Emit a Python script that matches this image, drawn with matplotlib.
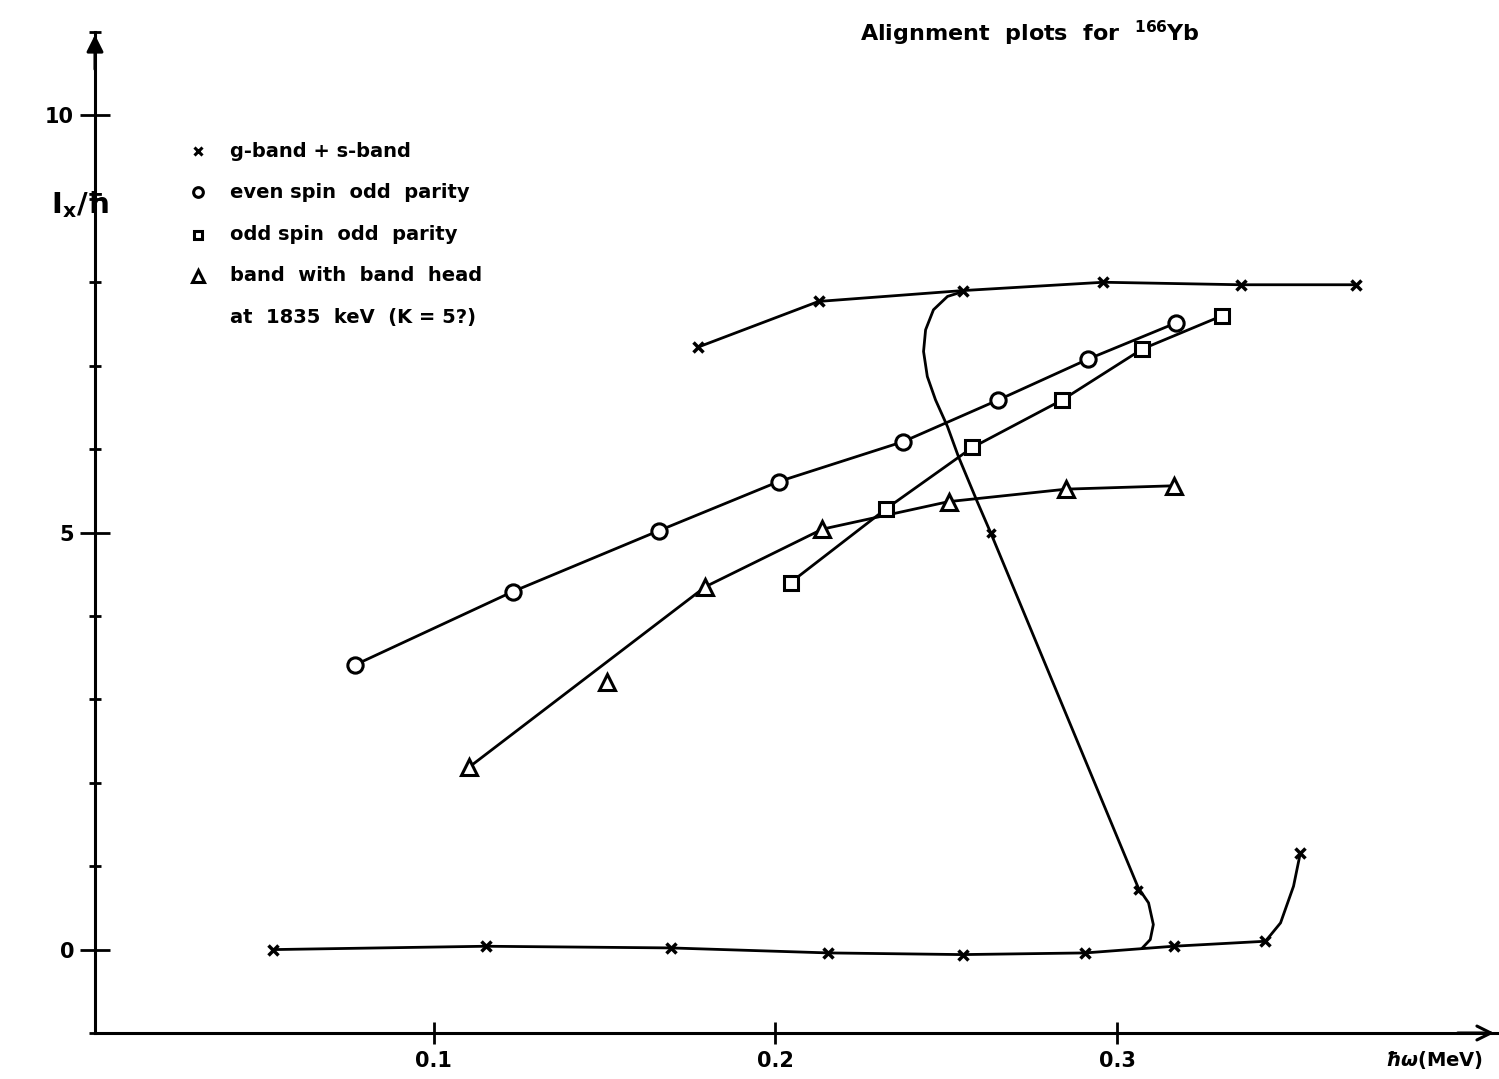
import numpy as np
import matplotlib
matplotlib.use("Agg")
import matplotlib.pyplot as plt
from matplotlib.ticker import MultipleLocator

# --- data (hw in MeV, i_x in hbar) ---
# g-band + s-band (crosses)
g_low_x = [0.0532, 0.1152, 0.1693, 0.2155, 0.2547, 0.2906, 0.3164, 0.3433, 0.3535]
g_low_y = [0.00, 0.04, 0.02, -0.04, -0.06, -0.04, 0.04, 0.10, 1.16]
g_bend_pts_x = [0.3061, 0.2629]
g_bend_pts_y = [0.72, 5.00]
s_band_x = [0.1772, 0.2126, 0.2547, 0.2959, 0.3360, 0.3699]
s_band_y = [7.22, 7.77, 7.90, 8.00, 7.97, 7.97]

# hand drawn curves through the crosses
bend_curve_x = [0.2550, 0.2503, 0.2462, 0.2439, 0.2433, 0.2444, 0.2468, 0.2503,
                0.2535, 0.2591, 0.2629, 0.3061, 0.3091, 0.3105, 0.3096, 0.3073]
bend_curve_y = [7.89, 7.83, 7.67, 7.43, 7.17, 6.87, 6.59, 6.27,
                5.91, 5.36, 5.00, 0.74, 0.56, 0.30, 0.12, 0.02]
g_curve_x = [0.0532, 0.1152, 0.1693, 0.2155, 0.2547, 0.2906, 0.3164, 0.3433,
             0.3477, 0.3515, 0.3535]
g_curve_y = [0.00, 0.04, 0.02, -0.04, -0.06, -0.04, 0.04, 0.10, 0.32, 0.76, 1.16]

# even spin odd parity (circles)
even_x = [0.0769, 0.1231, 0.1658, 0.2009, 0.2374, 0.2652, 0.2915, 0.3170]
even_y = [3.41, 4.29, 5.02, 5.61, 6.09, 6.59, 7.08, 7.51]

# odd spin odd parity (squares)
odd_x = [0.2044, 0.2322, 0.2576, 0.2839, 0.3073, 0.3307]
odd_y = [4.40, 5.28, 6.02, 6.59, 7.20, 7.60]

# band with band head at 1835 keV (triangles)
tri_x = [0.1105, 0.1506, 0.1795, 0.2137, 0.2506, 0.2851, 0.3164]
tri_y = [2.19, 3.21, 4.35, 5.04, 5.37, 5.52, 5.56]
tri_on_line = [True, False, True, True, True, True, True]

legend_labels = ["g-band + s-band", "even spin  odd  parity",
                 "odd spin  odd  parity", "band  with  band  head",
                 "at  1835  keV  (K = 5?)"]

plt.rcParams['font.family'] = ['DejaVu Sans']
plt.rcParams['font.weight'] = 'bold'

fig = plt.figure(figsize=(14.99, 10.79), dpi=100)
ax = fig.add_axes([95 / 1499, 46 / 1079, 1402 / 1499, 1001 / 1079])
ax.set_xlim(0.001, 0.411)
ax.set_ylim(-1.0, 11.0)

lw = 2.0
ax.plot(g_curve_x, g_curve_y, color='k', lw=lw)
ax.plot(bend_curve_x, bend_curve_y, color='k', lw=lw)
ax.plot(s_band_x, s_band_y, color='k', lw=lw)
ax.plot(even_x, even_y, color='k', lw=lw)
ax.plot(odd_x, odd_y, color='k', lw=lw)
tx = [x for x, k in zip(tri_x, tri_on_line) if k]
ty = [y for y, k in zip(tri_y, tri_on_line) if k]
ax.plot(tx, ty, color='k', lw=lw)

# markers
mk = dict(color='k', ls='none', zorder=5)
ax.plot(g_low_x, g_low_y, marker='x', ms=7, mew=2.5, **mk)
ax.plot(g_bend_pts_x, g_bend_pts_y, marker='x', ms=6, mew=2.5, **mk)
ax.plot(s_band_x, s_band_y, marker='x', ms=7, mew=2.5, **mk)
ax.plot(even_x, even_y, marker='o', ms=11, mew=2.2, mfc='white', **mk)
ax.plot(odd_x, odd_y, marker='s', ms=10, mew=2.2, mfc='white', **mk)
ax.plot(tri_x, tri_y, marker='^', ms=12, mew=2.2, mfc='white', **mk)

# legend drawn by hand like the original
leg_mx = 0.031
leg_tx = 0.0406
leg_rows = [9.57, 9.08, 8.57, 8.08, 7.58]
leg_marks = [('x', 6), ('o', 7), ('s', 6), ('^', 8)]
for (m, s), yy in zip(leg_marks, leg_rows):
    ax.plot([leg_mx], [yy], marker=m, ms=s, mew=2.2, color='k', mfc='white', ls='none')
for lab, yy in zip(legend_labels, leg_rows):
    ax.text(leg_tx, yy, lab, fontsize=14, fontweight='bold', va='center', ha='left')

# axes look: only left and bottom lines with arrows
for side in ['top', 'right']:
    ax.spines[side].set_visible(False)
for side in ['left', 'bottom']:
    ax.spines[side].set_linewidth(2.2)
ax.annotate('', xy=(1.0, 0), xytext=(0.97, 0), xycoords='axes fraction',
            arrowprops=dict(arrowstyle='->', lw=2.2, color='k', mutation_scale=25))
ax.annotate('', xy=(0, 1.0), xytext=(0, 0.96), xycoords='axes fraction',
            arrowprops=dict(arrowstyle='-|>', lw=2.2, color='k', mutation_scale=25))

ax.set_xticks([0.1, 0.2, 0.3])
ax.set_xticklabels(['0.1', '0.2', '0.3'])
ax.set_yticks([0, 5, 10])
ax.set_yticklabels(['0', '5', '10'])
ax.yaxis.set_minor_locator(MultipleLocator(1))
ax.tick_params(axis='x', direction='inout', length=16, width=2, labelsize=15, pad=5)
ax.tick_params(axis='y', which='major', direction='inout', length=22, width=2, labelsize=15, pad=4)
ax.tick_params(axis='y', which='minor', direction='inout', length=8, width=2)
for t in ax.get_xticklabels() + ax.get_yticklabels():
    t.set_fontweight('bold')

fig.text(860 / 1499, 1 - 33 / 1079, r'Alignment  plots  for  $^{\mathbf{166}}$Yb',
         fontsize=16, fontweight='bold', va='center', ha='left')
fig.text(80 / 1499, 1 - 205 / 1079, r'$\mathrm{I_x/\hbar}$', fontsize=21, va='center', ha='center')
fig.text(1385 / 1499, 1 - 1060 / 1079, r'$\hbar\omega$(MeV)', fontsize=14,
         fontweight='bold', va='center', ha='left')

fig.savefig('out.png', dpi=100, facecolor='white')
